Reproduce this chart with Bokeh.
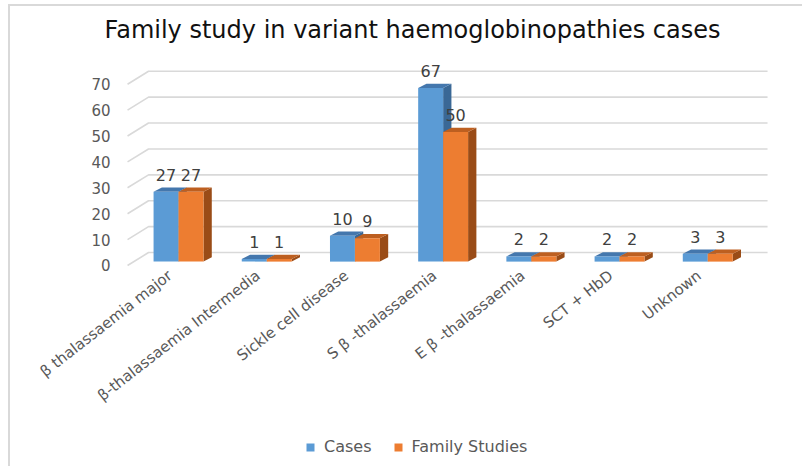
from bokeh.plotting import figure
from bokeh.models import Range1d, Legend, LegendItem, ColumnDataSource, Label
from bokeh.embed import file_html
from bokeh.resources import INLINE
from bokeh.core.properties import value

# ---- data ----
title_text = "Family study in variant haemoglobinopathies cases"
categories = ["β thalassaemia major", "β-thalassaemia Intermedia", "Sickle cell disease",
              "S β -thalassaemia", "E β -thalassaemia", "SCT + HbD", "Unknown"]
cases = [27, 1, 10, 67, 2, 2, 3]
family_studies = [27, 1, 9, 50, 2, 2, 3]
series_names = ["Cases", "Family Studies"]
y_ticks = [0, 10, 20, 30, 40, 50, 60, 70]

# ---- style (3-D look) ----
BAR_W = 0.283          # width of one bar in category units
DEPTH_X = 0.094        # bar depth offset (x, category units)
DEPTH_Y = 1.66         # bar depth offset (y, value units)
BASE = 1.5             # bar floor offset
GRID_FRONT = -0.578
GRID_BACK = -0.340
GRID_END = 6.678
GRID_DY = 5.0
TITLE_X = 2.653
TITLE_Y = 91.0
front_cols = ["#5B9BD5", "#ED7D31"]
top_cols = ["#4477ad", "#bd5f20"]
side_cols = ["#3a6896", "#9a4c17"]
FONT = "DejaVu Sans"
GREY = "#595959"

p = figure(width=794, height=462, output_backend="svg", toolbar_location=None,
           x_range=Range1d(-1.905, 7.097), y_range=Range1d(-78.38, 100.0),
           x_axis_location=None, y_axis_location=None,
           min_border_left=0, min_border_right=0, min_border_top=0, min_border_bottom=0,
           styles={"margin-left": "10px", "margin-top": "6px",
                   "box-shadow": "-2px -2px 0 0 #d9d9d9"})
p.outline_line_color = None
p.xgrid.visible = False
p.ygrid.visible = False
p.background_fill_color = "white"
p.border_fill_color = "white"

# chart title
p.add_layout(Label(x=TITLE_X, y=TITLE_Y, text=title_text, text_align="center",
                   text_baseline="alphabetic", text_font=FONT, text_font_size="24px",
                   text_color="#111111"))

# gridlines (front diagonal + back horizontal)
gxs = [[GRID_FRONT, GRID_BACK, GRID_END] for _ in y_ticks]
gys = [[t, t + GRID_DY, t + GRID_DY] for t in y_ticks]
p.multi_line(gxs, gys, line_color="#d9d9d9", line_width=1.6)

# value-axis tick labels
p.text(x=[GRID_FRONT] * len(y_ticks), y=y_ticks, text=[str(t) for t in y_ticks],
       text_align="right", text_baseline="middle", x_offset=-17,
       text_font=value(FONT), text_font_size="15px", text_color=GREY)

# category labels
p.text(x=list(range(len(categories))), y=[0] * len(categories), text=categories,
       angle=0.663, text_align="right", text_baseline="top", x_offset=-14, y_offset=1,
       text_font=value(FONT), text_font_size="15px", text_color=GREY)

# bars
legend_items = []
for s, vals in enumerate([cases, family_studies]):
    left = [i + (s - 1) * BAR_W for i in range(len(vals))]
    right = [l + BAR_W for l in left]
    top = [v + BASE for v in vals]
    side_xs = [[r, r, r + DEPTH_X, r + DEPTH_X] for r in right]
    side_ys = [[BASE, t, t + DEPTH_Y, BASE + DEPTH_Y] for t in top]
    top_xs = [[l, r, r + DEPTH_X, l + DEPTH_X] for l, r in zip(left, right)]
    top_ys = [[t, t, t + DEPTH_Y, t + DEPTH_Y] for t in top]
    p.patches(side_xs, side_ys, fill_color=side_cols[s], line_color=None)
    p.patches(top_xs, top_ys, fill_color=top_cols[s], line_color=None)
    src = ColumnDataSource(dict(left=left, right=right, top=top, bottom=[BASE] * len(vals),
                                xc=[(l + r) / 2 for l, r in zip(left, right)],
                                lab=[str(v) for v in vals]))
    fr = p.quad(left="left", right="right", top="top", bottom="bottom", source=src,
                fill_color=front_cols[s], line_color=None)
    p.text(x="xc", y="top", text="lab", source=src, text_align="center",
           text_baseline="middle", y_offset=-17, text_font=value(FONT),
           text_font_size="16px", text_color="#404040")
    legend_items.append(LegendItem(label=series_names[s], renderers=[fr]))

legend = Legend(items=legend_items, orientation="horizontal", location=(295, 12),
                glyph_width=10, glyph_height=10, label_standoff=9, spacing=21,
                padding=4, margin=0,
                label_text_font=FONT, label_text_font_size="16px",
                label_text_color=GREY, border_line_color=None,
                background_fill_alpha=0)
p.add_layout(legend, "center")

open("out.html", "w").write(file_html(p, INLINE))
